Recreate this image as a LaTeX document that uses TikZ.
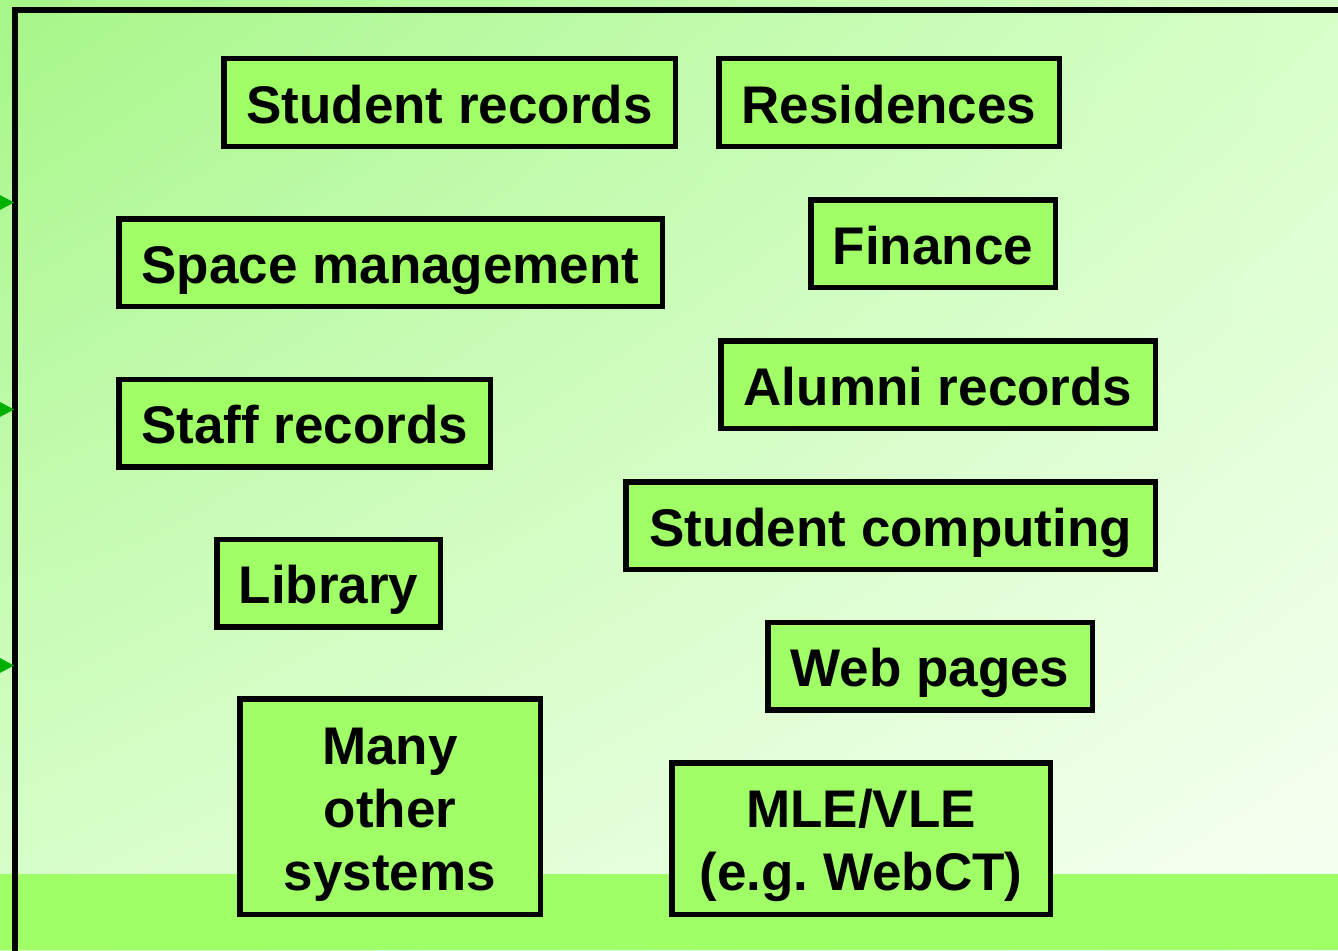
\documentclass[tikz,border=0pt]{standalone}
\usepackage{fontspec}
\setmainfont{Liberation Sans}
\usetikzlibrary{shadings}
\frenchspacing
\definecolor{bgUL}{HTML}{A6F688}
\definecolor{bgUR}{HTML}{D6FFC8}
\definecolor{bgLL}{HTML}{DAFFCE}
\definecolor{bgLR}{HTML}{F8FFF4}
\definecolor{bandgreen}{HTML}{9EFF66}
\definecolor{boxfill}{HTML}{A0FF66}
\definecolor{arrowgreen}{HTML}{00B000}
\tikzset{
  sys/.style={draw=black, line width=5.5pt, fill=boxfill, inner sep=0pt,
    font=\fontsize{53}{63}\selectfont\bfseries\frenchspacing, text height=41pt, text depth=0pt, align=center},
  frameline/.style={draw=black, line width=6pt, line join=miter},
  tip/.style={fill=arrowgreen}
}
\begin{document}
\begin{tikzpicture}[x=1pt,y=-1pt]
\useasboundingbox (0,0) rectangle (1338,950);
% background
\shade[upper left=bgUL, upper right=bgUR, lower left=bgLL, lower right=bgLR] (0,0) rectangle (1338,950);
\fill[bandgreen] (0,874) rectangle (1338,950);
% frame
\draw[frameline] (15,952) -- (15,10) -- (1340,10);
% incoming arrow tips
\fill[tip] (-3,193.5) -- (14,202.5) -- (-3,211.5) -- cycle;
\fill[tip] (-3,400.5) -- (14,409.5) -- (-3,418.5) -- cycle;
\fill[tip] (-3,656.5) -- (14,665.5) -- (-3,674.5) -- cycle;
% systems
\node[sys, minimum width=451.5pt, minimum height=87.5pt] (sr) at (449.5,102.5) {Student records};
\node[sys, minimum width=340.5pt, minimum height=87.5pt] (res) at (889,102.5) {Residences};
\node[sys, minimum width=543.5pt, minimum height=87.5pt] (space) at (390.5,262.5) {Space management};
\node[sys, minimum width=244.5pt, minimum height=87.5pt] (fin) at (933,243.5) {Finance};
\node[sys, minimum width=371.5pt, minimum height=87.5pt] (staff) at (304.5,423) {Staff records};
\node[sys, minimum width=434.5pt, minimum height=87.5pt] (alumni) at (938,384.5) {Alumni records};
\node[sys, minimum width=223.5pt, minimum height=87.5pt] (lib) at (328.5,583) {Library};
\node[sys, minimum width=529.5pt, minimum height=87.5pt] (comp) at (890.5,525.5) {Student computing};
\node[sys, minimum width=324.5pt, minimum height=87.5pt] (web) at (930,666) {Web pages};
\node[sys, minimum width=300.5pt, minimum height=215.5pt, text height=167pt, text depth=0pt] (many) at (390,806.5) {Many\\other\\systems};
\node[sys, minimum width=378.5pt, minimum height=151.5pt, text height=104pt, text depth=0pt] (mle) at (861,838.5) {MLE/VLE\\(e.g. WebCT)};
\end{tikzpicture}
\end{document}
